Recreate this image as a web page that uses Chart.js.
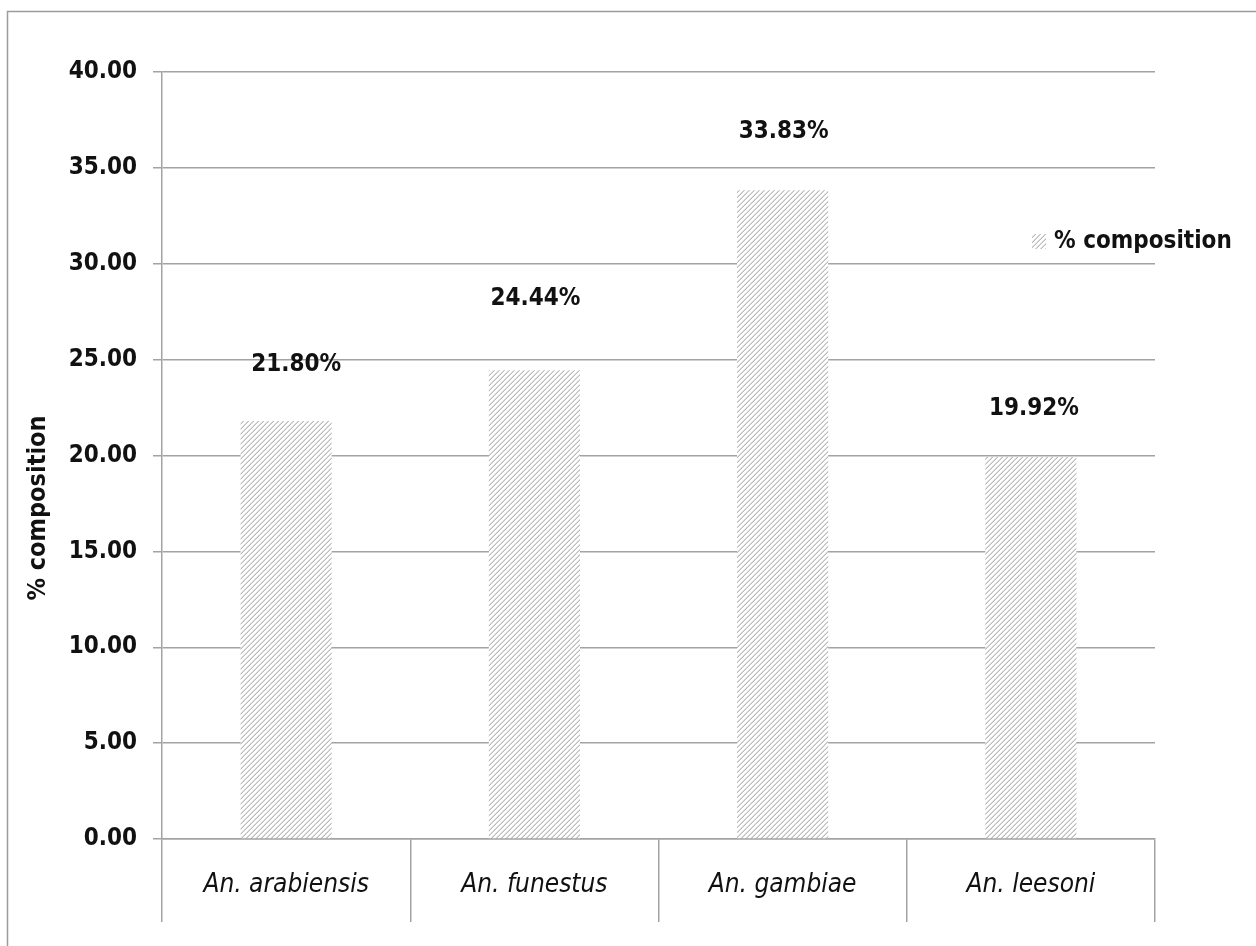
<!DOCTYPE html>
<html>
<head>
    <meta charset="utf-8">
    <title>% composition</title>
    <style>
        body { margin: 0; background: #fff; }
        canvas { display: block; }
    </style>
</head>
<body>
    <canvas id="chart" width="1256" height="946"></canvas>

    <script src="https://cdn.jsdelivr.net/npm/chart.js"></script>
    <script>
        // data
        const species = ['An. arabiensis', 'An. funestus', 'An. gambiae', 'An. leesoni'];
        const composition = [21.80, 24.44, 33.83, 19.92];
        const seriesName = '% composition';
        const yTicks = [0, 5, 10, 15, 20, 25, 30, 35, 40];

        const FONT = '"DejaVu Sans Condensed", "DejaVu Sans", sans-serif';
        const GRID = '#a3a3a3';

        // light grey "/" hatch like the excel fill
        function hatch() {
            const n = 5;
            const c = document.createElement('canvas');
            c.width = n; c.height = n;
            const g = c.getContext('2d');
            g.fillStyle = '#fff';
            g.fillRect(0, 0, n, n);
            for (let x = 0; x < n; x++) {
                for (let y = 0; y < n; y++) {
                    const k = (x + y) % n;
                    if (k === 4) { g.fillStyle = '#bdbdbd'; g.fillRect(x, y, 1, 1); }
                    if (k === 3) { g.fillStyle = '#dadada'; g.fillRect(x, y, 1, 1); }
                }
            }
            return g.createPattern(c, 'repeat');
        }
        const fill = hatch();

        const extras = {
            id: 'extras',
            beforeDraw(chart) {
                const ctx = chart.ctx;
                ctx.save();
                ctx.strokeStyle = '#9c9c9c';
                ctx.lineWidth = 1.5;
                ctx.strokeRect(7.5, 11.5, 1400, 1200);
                ctx.restore();
            },
            afterDatasetsDraw(chart, args, opts) {
                const ctx = chart.ctx;
                const meta = chart.getDatasetMeta(0);
                ctx.save();
                ctx.font = 'bold 24px ' + FONT;
                ctx.fillStyle = '#111';
                ctx.textAlign = 'center';
                ctx.textBaseline = 'middle';
                meta.data.forEach((bar, i) => {
                    const v = chart.data.datasets[0].data[i];
                    ctx.fillText(v.toFixed(2) + '%', bar.x + opts.dx[i], bar.y - opts.dy[i]);
                });

                // legend on the right
                const lx = 1032, ly = 242;
                ctx.fillStyle = fill;
                ctx.fillRect(lx, ly - 8, 14, 15);
                ctx.fillStyle = '#111';
                ctx.textAlign = 'left';
                ctx.fillText(chart.data.datasets[0].label, lx + 22, ly);

                // y axis title, sits a bit below the middle of the axis like the original
                ctx.font = 'bold 25px ' + FONT;
                ctx.translate(38, 508);
                ctx.rotate(-Math.PI / 2);
                ctx.textAlign = 'center';
                ctx.fillText(seriesName, 0, 0);
                ctx.restore();
            }
        };

        new Chart(document.getElementById('chart'), {
            type: 'bar',
            data: {
                labels: species,
                datasets: [{
                    label: seriesName,
                    data: composition,
                    backgroundColor: fill,
                    borderWidth: 0,
                    categoryPercentage: 1,
                    barPercentage: 0.367
                }]
            },
            options: {
                responsive: false,
                animation: false,
                layout: { padding: { top: 72, right: 101, left: 0, bottom: 0 } },
                plugins: {
                    legend: { display: false },
                    tooltip: { enabled: false },
                    extras: { dx: [10, 1, 1, 3], dy: [56, 72, 59, 48] }
                },
                scales: {
                    x: {
                        grid: {
                            offset: true,
                            drawOnChartArea: false,
                            tickLength: 83,
                            color: GRID,
                            lineWidth: 1.5
                        },
                        border: { color: GRID, width: 1.5 },
                        ticks: {
                            padding: -52,
                            color: '#111',
                            font: { family: FONT, size: 26, style: 'italic' }
                        },
                        afterFit(scale) { scale.height = 107; }
                    },
                    y: {
                        min: 0,
                        max: 40,
                        afterBuildTicks(scale) { scale.ticks = yTicks.map(v => ({ value: v })); },
                        grid: { color: GRID, lineWidth: 1.5, tickLength: 9 },
                        border: { color: GRID, width: 1.5 },
                        ticks: {
                            padding: 16,
                            color: '#111',
                            font: { family: FONT, size: 24, weight: 'bold' },
                            callback: v => v.toFixed(2)
                        },
                        afterFit(scale) { scale.width = 162; }
                    }
                }
            },
            plugins: [extras]
        });
    </script>
</body>
</html>
